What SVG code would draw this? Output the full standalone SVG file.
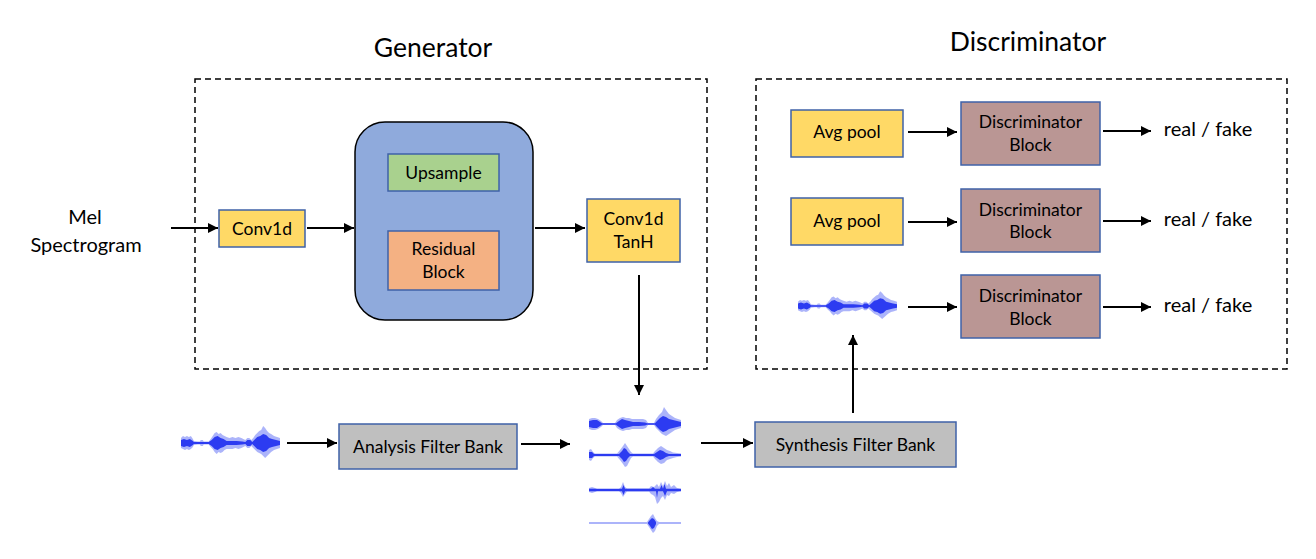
<svg xmlns="http://www.w3.org/2000/svg" xmlns:xlink="http://www.w3.org/1999/xlink" width="1316" height="559" viewBox="0 0 1316 559">
<style>
text{font-family:Lato,"Liberation Sans",sans-serif;fill:#000;text-anchor:middle}
.title{font-size:26.5px}
.lbl{font-size:20px}
.bx{font-size:17.5px}
.dash{fill:none;stroke:#000;stroke-width:1.5;stroke-dasharray:6 4}
.box{stroke:#3F62A8;stroke-width:1.5}
.yel{fill:#FFD966}
.grn{fill:#A9D18E}
.org{fill:#F4B183}
.mau{fill:#BA9694}
.gry{fill:#BFBFBF}
.conn line{stroke:#000;stroke-width:2;marker-end:url(#ah)}
.wl{fill:#7482F6;opacity:0.6}
.wd{fill:#1E2DF0;opacity:0.9}
</style>
<defs>
<marker id="ah" markerUnits="userSpaceOnUse" markerWidth="11" markerHeight="10" refX="10" refY="5" orient="auto">
<path d="M0,0 L10,5 L0,10 Z" fill="#000"/>
</marker>
<g id="wave">
<path class="wl" d="M0,-5 L2,-7 4,-6 6,-7 8,-6 10,-7 12,-4 13,-2 17,-1.5 19,-1.5 20,-3 22,-3 23,-1.5 28,-1.5 30,-4 32,-7 34,-10 36,-11 38,-9 40,-10 42,-8 44,-7 46,-6 49,-5 52,-6 55,-5 58,-6 61,-5 63,-4 65,-3 67,-5 69,-5 71,-3 73,-5 75,-8 77,-10 79,-12 81,-13 83,-17 85,-15 87,-12 89,-10 91,-9 94,-7 97,-6 100,-5 L100,5 97,6 94,7 91,9 89,11 87,13 85,15 83,13 81,11 79,10 77,9 75,7 73,5 71,3 69,5 67,5 65,3 63,4 61,5 58,6 55,5 52,6 49,6 46,6 44,7 42,9 40,10 38,9 36,11 34,9 32,6 30,4 28,1.5 23,1.5 22,3 20,3 19,1.5 17,1.5 13,2 12,4 10,6 8,7 6,6 4,7 2,6 0,5 Z"/>
<path class="wd" d="M0,-3 L3,-4 6,-3 9,-4 12,-2 13,-1 28,-1 31,-3 34,-6 37,-7 40,-5 43,-4 46,-2 50,-2 56,-2 62,-1.5 65,-1 67,-3 70,-3 72,-1 74,-3 77,-6 80,-7 83,-9 86,-8 89,-5 92,-4 96,-3 100,-2 L100,2 96,3 92,4 89,5 86,8 83,9 80,7 77,6 74,3 72,1 70,3 67,3 65,1 62,1.5 56,2 50,2 46,2 43,4 40,5 37,7 34,6 31,3 28,1 13,1 12,2 9,4 6,3 3,4 0,3 Z"/>
</g>
</defs>
<rect width="1316" height="559" fill="#fff"/>

<text class="title" x="433" y="57">Generator</text>
<text class="title" x="1028" y="51">Discriminator</text>

<g id="generator-frame"><rect class="dash" x="195" y="79" width="512" height="290"/></g>
<g id="discriminator-frame"><rect class="dash" x="756" y="79" width="531" height="290"/></g>

<g id="mel-input">
<text class="lbl" x="85" y="224">Mel</text>
<text class="lbl" x="86" y="252">Spectrogram</text>
</g>

<g id="conv1d"><rect class="box yel" x="219" y="210" width="86" height="37"/><text class="bx" x="262" y="235">Conv1d</text></g>

<g id="upsample-stack">
<rect x="355" y="122" width="178" height="198" rx="30" fill="#8FAADC" stroke="#000" stroke-width="1.5"/>
</g>
<g id="upsample"><rect class="box grn" x="388" y="154" width="111" height="37"/><text class="bx" x="443.5" y="179">Upsample</text></g>
<g id="residual-block"><rect class="box org" x="388" y="231" width="111" height="59"/><text class="bx" x="443.5" y="255">Residual</text><text class="bx" x="443.5" y="278">Block</text></g>

<g id="conv1d-tanh"><rect class="box yel" x="587" y="199" width="93" height="63"/><text class="bx" x="633.5" y="225">Conv1d</text><text class="bx" x="633.5" y="248">TanH</text></g>

<g id="input-wave"><use xlink:href="#wave" transform="translate(181,443) scale(0.99,1)"/></g>

<g id="analysis-filter-bank"><rect class="box gry" x="339" y="424" width="178" height="45"/><text class="bx" x="428" y="453">Analysis Filter Bank</text></g>

<g id="subband-waves">
<g transform="translate(589,424)">
<path class="wl" d="M0,-5 L3,-6 6,-6 9,-5 12,-3 14,-1 26,-1 28,-4 31,-6 34,-7 37,-6 40,-6 43,-5 46,-5 50,-5 54,-5 57,-4 59,-1 65,-1 67,-5 70,-9 73,-12 75,-17 77,-14 80,-10 83,-8 86,-6 89,-5 92,-4 L92,4 89,5 86,6 83,8 80,10 77,12 75,11 73,10 70,7 67,4 65,1 59,1 57,4 54,5 50,5 46,5 43,5 40,6 37,6 34,7 31,6 28,4 26,1 14,1 12,3 9,5 6,6 3,6 0,5 Z"/>
<path class="wd" d="M0,-3 L4,-4 8,-4 11,-2 13,-0.7 27,-0.7 30,-3 33,-5 36,-4 40,-3 44,-2 50,-2 56,-1.5 58,-0.7 66,-0.7 68,-3 71,-6 74,-8 77,-7 80,-5 84,-4 88,-3 92,-2 L92,2 88,3 84,4 80,5 77,7 74,8 71,6 68,3 66,0.7 58,0.7 56,1.5 50,2 44,2 40,3 36,4 33,5 30,3 27,0.7 13,0.7 11,2 8,4 4,4 0,3 Z"/>
</g>
<g transform="translate(589,455)">
<path class="wl" d="M0,-5 L2,-6 4,-3 6,-1.5 28,-1.5 31,-5 34,-9 36,-12 38,-9 40,-6 42,-3 44,-1.5 64,-1.5 66,-4 69,-7 72,-9 75,-7 78,-5 81,-4 84,-2.5 88,-2 92,-1.5 L92,1.5 88,2 84,3 81,4 78,5 75,8 72,9 69,7 66,4 64,1.5 44,1.5 42,3 40,7 38,11 36,12 34,9 31,5 28,1.5 6,1.5 4,3 2,6 0,5 Z"/>
<path class="wd" d="M0,-3 L3,-3 5,-1 30,-1 33,-4 35,-7 37,-6 39,-3 41,-1 65,-1 68,-3 71,-5 74,-4 77,-2 80,-1 92,-1 L92,1 80,1 77,2 74,4 71,5 68,3 65,1 41,1 39,3 37,6 35,7 33,4 30,1 5,1 3,3 0,3 Z"/>
</g>
<g transform="translate(589,490)">
<path class="wl" d="M0,-2 L3,-3 6,-2 8,-1 30,-1 32,-3 34,-8 36,-3 38,-1.5 60,-1.5 62,-4 65,-3 68,-6 70,-3 72,-8 74,-4 76,-9 78,-4 80,-7 82,-3 85,-5 88,-2 92,-1 L92,1 88,2 85,4 82,3 80,6 78,5 76,10 74,6 72,8 70,12 68,14 66,7 64,5 62,4 60,1.5 38,1.5 36,4 34,7 32,3 30,1 8,1 6,2 3,3 0,2 Z"/>
<path class="wd" d="M0,-1.2 L33,-1.2 34.5,-5 36,-1.2 62,-1.2 64,-3 66,-1.2 71,-1.2 72.5,-5 74,-1.2 75.5,-6 77,-1.2 92,-1.2 L92,1.2 78,1.2 76,6 74,1.2 69,1.2 68,8 67,1.2 36,1.2 34.5,5 33,1.2 0,1.2 Z"/>
</g>
<g transform="translate(589,523)">
<path class="wl" d="M0,-1 L58,-1 60,-4 62,-7 64,-9 66,-5 68,-2 70,-1 92,-1 L92,1 70,1 68,3 66,8 64,10 62,7 60,4 58,1 0,1 Z"/>
<path class="wd" d="M59,-0.6 L61,-3 63,-5 65,-4 67,-1 67,1 65,5 63,6 61,3 59,0.6 Z"/>
</g>
</g>

<g id="synthesis-filter-bank"><rect class="box gry" x="755" y="422" width="201" height="45"/><text class="bx" x="855.5" y="451">Synthesis Filter Bank</text></g>

<g id="avg-pool-1"><rect class="box yel" x="791" y="110" width="112" height="47"/><text class="bx" x="847" y="138">Avg pool</text></g>
<g id="avg-pool-2"><rect class="box yel" x="791" y="198" width="112" height="47"/><text class="bx" x="847" y="227">Avg pool</text></g>
<g id="disc-wave"><use xlink:href="#wave" transform="translate(798,306) scale(0.99,0.87)"/></g>

<g id="disc-block-1"><rect class="box mau" x="961" y="102" width="139" height="63"/><text class="bx" x="1030.5" y="128">Discriminator</text><text class="bx" x="1030.5" y="151">Block</text></g>
<g id="disc-block-2"><rect class="box mau" x="961" y="189" width="139" height="63"/><text class="bx" x="1030.5" y="216">Discriminator</text><text class="bx" x="1030.5" y="238">Block</text></g>
<g id="disc-block-3"><rect class="box mau" x="961" y="275" width="139" height="63"/><text class="bx" x="1030.5" y="302">Discriminator</text><text class="bx" x="1030.5" y="325">Block</text></g>

<g id="out-1"><text class="lbl" x="1208" y="136">real / fake</text></g>
<g id="out-2"><text class="lbl" x="1208" y="226">real / fake</text></g>
<g id="out-3"><text class="lbl" x="1208" y="312">real / fake</text></g>

<g id="connectors" class="conn">
<line x1="171" y1="228" x2="218" y2="228"/>
<line x1="307" y1="228" x2="354" y2="228"/>
<line x1="535" y1="228" x2="585" y2="228"/>
<line x1="639" y1="275" x2="639" y2="395"/>
<line x1="287" y1="443" x2="337" y2="443"/>
<line x1="521" y1="444" x2="570" y2="444"/>
<line x1="701" y1="443" x2="753" y2="443"/>
<line x1="853" y1="413" x2="853" y2="335"/>
<line x1="908" y1="132" x2="957" y2="132"/>
<line x1="908" y1="222" x2="957" y2="222"/>
<line x1="908" y1="307" x2="957" y2="307"/>
<line x1="1103" y1="131" x2="1151" y2="131"/>
<line x1="1103" y1="221" x2="1151" y2="221"/>
<line x1="1103" y1="307" x2="1151" y2="307"/>
</g>
</svg>
